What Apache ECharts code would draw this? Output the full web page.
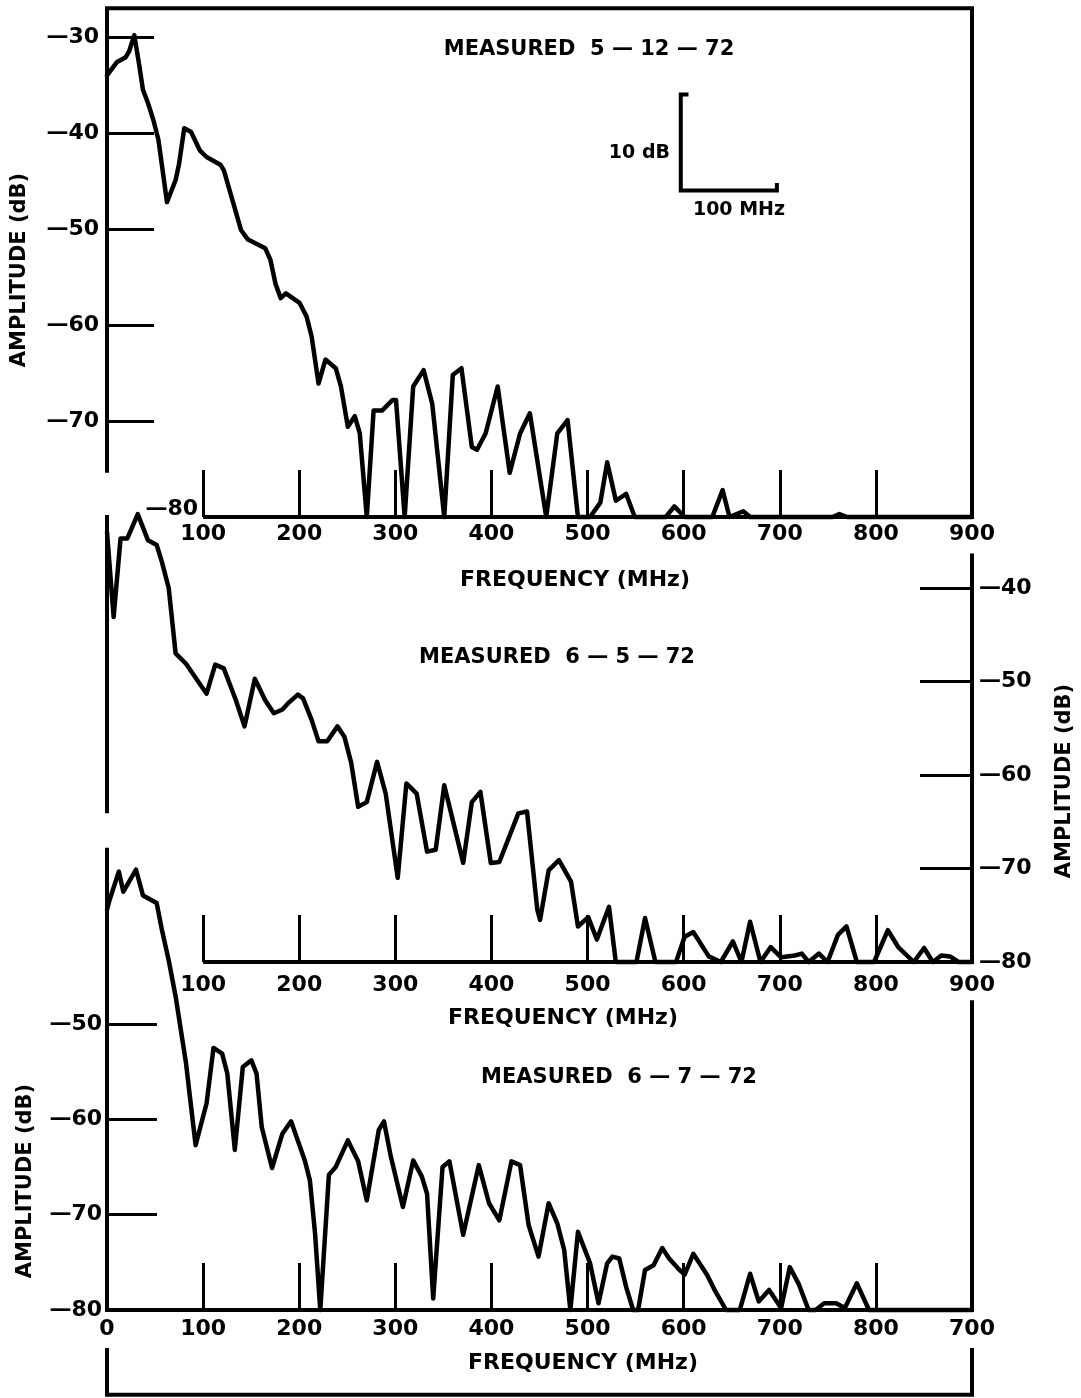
<!DOCTYPE html>
<html><head><meta charset="utf-8">
<script src="https://cdn.jsdelivr.net/npm/echarts@6/dist/echarts.min.js"></script>
<style>html,body{margin:0;padding:0;background:#fff}#c{width:1081px;height:1398px}</style>
</head><body><div id="c"></div>
<script>
// ---------- DATA ----------
// Panel 1: measured 5-12-72
const freq1 = [0,10.5,19.5,23,28.4,33.8,37.4,42.7,48.1,53.5,62.4,71.4,75,80.4,87.5,96.5,103.6,118,121.6,139.4,146.7,164.6,170,175.3,180.7,186.1,200.4,207.6,212.9,220.1,227.3,238,243.4,250.6,257.8,263,270.3,277.4,286.4,297.2,300.7,309.7,318.6,329.4,338.4,350.9,359.8,368.8,379.6,385,393.9,406.5,419,429.8,440,457,468.5,479.2,490,502.6,513.3,520.4,529.5,540.2,549.1,581.4,590.3,601.1,629.8,640.5,647.7,662,669.1,755,762,770,900];
const amp1  = [-34,-32.6,-32.1,-31.5,-29.8,-33.1,-35.5,-36.9,-38.6,-40.7,-47.2,-44.9,-43.2,-39.5,-39.9,-41.8,-42.5,-43.3,-43.9,-50.1,-51.1,-52,-53.2,-55.7,-57.2,-56.7,-57.7,-59.1,-61.2,-66.1,-63.6,-64.5,-66.4,-70.6,-69.5,-71.3,-80,-68.9,-68.9,-67.8,-67.8,-80,-66.4,-64.7,-68.2,-80,-65.2,-64.5,-72.7,-73,-71.3,-66.4,-75.4,-71.3,-69.2,-80,-71.3,-69.9,-80,-80,-78.5,-74.3,-78.3,-77.6,-80,-80,-78.9,-80,-80,-77.2,-80,-79.4,-80,-80,-79.7,-80,-80];
// Panel 2: measured 6-5-72
const freq2 = [0,6.9,14.1,21.2,32,42.7,51.7,57.1,64.2,71.4,82.2,103.6,112.6,121.5,134.1,143.1,153.8,164.6,173.6,182.5,189.7,198.6,204,212.9,220.1,229.1,239.8,247,254.1,261.3,270.3,281,290,302.5,311.5,322.2,333,342,350.9,370.6,379.6,388.5,399.3,408.2,428,437,442.3,447.7,450.6,459.5,470.2,482.8,490,500.7,509.7,522.3,529.4,550.9,559.8,570.6,592,601,610,626.1,638.7,651.2,660.1,669.1,679.9,690.6,701.4,715.7,722.9,730,740.8,749.7,760.5,769.4,780.2,798.1,812.5,823.2,839.4,850.2,859.2,868.1,877.1,886,900];
const amp2  = [-34,-43.1,-34.7,-34.7,-32.1,-34.9,-35.4,-37.2,-40,-47,-48.1,-51.3,-48.2,-48.6,-52,-54.8,-49.7,-52,-53.4,-53,-52.2,-51.4,-51.8,-54.1,-56.4,-56.4,-54.8,-55.9,-58.7,-63.4,-62.9,-58.6,-62,-71,-60.9,-62,-68.2,-68,-61.1,-69.4,-62.9,-61.8,-69.4,-69.3,-64.1,-63.9,-69.1,-74.4,-75.5,-70.2,-69.1,-71.4,-76.2,-75.2,-77.6,-74.1,-80,-80,-75.3,-80,-80,-77.3,-76.8,-79.4,-80,-77.8,-80,-75.7,-80,-78.4,-79.5,-79.3,-79.1,-80,-79.1,-80,-77.1,-76.2,-80,-80,-76.6,-78.4,-80,-78.5,-80,-79.3,-79.4,-80,-80];
// Panel 3: measured 6-7-72
const freq3 = [0,2.6,12.3,17,30.2,37.4,42.7,51.7,57.1,64.2,71.4,82.2,92.2,103.6,110.8,119.8,125.2,133,141.3,150.2,155.6,161,171.7,182.5,191.5,205.8,211.1,216.5,221.9,230.9,238,250.6,261.3,270.3,275.7,282.8,288.2,295.3,307.9,318.6,327.6,333,339.4,349.1,356.3,370.6,386.8,397.5,408.2,420.8,429.8,438.7,449,459.5,468.5,475.7,482.1,490,502.6,511.4,520.4,525.8,533,540.2,547.4,552.6,559.8,568.7,577.7,584.9,593.8,601,610,624.3,633.3,644.1,658.4,669.1,678.1,688.9,701.4,710.4,719.4,730,737.3,746.2,758.7,767.7,780.2,792.8,900];
const amp3  = [-38,-37,-34,-36.1,-33.8,-36.5,-36.8,-37.3,-40.1,-43.3,-47.1,-54.1,-62.7,-58.3,-52.5,-53.1,-55.2,-63.2,-54.5,-53.8,-55.2,-60.8,-65.1,-61.5,-60.2,-64.3,-66.4,-72,-80,-65.8,-65,-62.2,-64.4,-68.5,-65.3,-61.1,-60.2,-63.9,-69.2,-64.3,-66,-67.8,-78.8,-65,-64.4,-72.1,-64.8,-68.8,-70.6,-64.4,-64.8,-71.1,-74.4,-68.8,-70.9,-73.7,-80,-71.8,-75.1,-79.3,-75.1,-74.4,-74.6,-77.6,-80,-80,-75.8,-75.3,-73.5,-74.6,-75.6,-76.3,-74.1,-76.3,-78.1,-80,-80,-76.2,-79.1,-77.9,-79.8,-75.5,-77.2,-80,-80,-79.3,-79.3,-79.8,-77.2,-80,-80];
// Scale bar (10 dB / 100 MHz) in panel 1
const scaleBarFreq = [605,597,597,697,697];
const scaleBarAmp  = [-36,-36,-46,-46,-45.2];
// Ticks and labels
const xTickValues  = [100,200,300,400,500,600,700,800];
const xLabelValues12 = [100,200,300,400,500,600,700,800,900];
const xLabels12      = ['100','200','300','400','500','600','700','800','900'];
const xLabelValues3  = [0,100,200,300,400,500,600,700,800,900];
const xLabels3       = ['0','100','200','300','400','500','600','700','800','700'];
const yTicks1 = [-70,-60,-50,-40,-30], yLabels1 = [-70,-60,-50,-40,-30];
const yTicks2 = [-70,-60,-50,-40],     yLabels2 = [-80,-70,-60,-50,-40];
const yTicks3 = [-70,-60,-50],         yLabels3 = [-80,-70,-60,-50];
const titles = ['MEASURED  5 — 12 — 72','MEASURED  6 — 5 — 72','MEASURED  6 — 7 — 72'];
const xTitle = 'FREQUENCY (MHz)';
const yTitle = 'AMPLITUDE (dB)';

// ---------- CHART ----------
const FONT = 'DejaVu Sans';
const INK = '#000';
const zip = (a,b) => a.map((v,i)=>[v,b[i]]);
const chart = echarts.init(document.getElementById('c'), null, {renderer:'canvas'});
const lab = (vals, names) => v => { const i = vals.indexOf(v); return i<0 ? '' : names[i]; };
const dbFmt = v => '—' + Math.abs(v);
function xAxis(grid, labVals, labNames, margin){
  return {type:'value', gridIndex:grid, min:0, max:900, interval:100,
    axisLine:{show:false, onZero:false}, splitLine:{show:false},
    axisTick:{show:true, inside:true, length:47, customValues:xTickValues, lineStyle:{color:INK,width:3}},
    axisLabel:{show:true, customValues:labVals, formatter:lab(labVals,labNames), margin:margin,
      color:INK, fontFamily:FONT, fontWeight:'bold', fontSize:22}};
}
function yAxis(grid, pos, ticks, labels, tickLen, margin){
  return {type:'value', gridIndex:grid, position:pos, min:-80, max:-30, interval:10,
    axisLine:{show:false, onZero:false}, splitLine:{show:false},
    axisTick:{show:true, inside:true, length:tickLen, customValues:ticks, lineStyle:{color:INK,width:3}},
    axisLabel:{show:true, customValues:labels, formatter:dbFmt, margin:margin,
      color:INK, fontFamily:FONT, fontWeight:'bold', fontSize:22}};
}
const lineStyle = {color:INK, width:4.5, join:'round', cap:'round'};
function ser(x, y, data){
  return {type:'line', xAxisIndex:x, yAxisIndex:y, data:data, showSymbol:false, symbol:'none',
    clip:false, silent:true, lineStyle:lineStyle, animation:false};
}
const option = {
  animation:false,
  backgroundColor:'#fff',
  grid:[
    {left:107, width:865, top:37, height:480},
    {left:107, width:865, top:494.5, height:467.5},
    {left:107, width:865, top:833.5, height:476.5}
  ],
  xAxis:[ xAxis(0,xLabelValues12,xLabels12,6), xAxis(1,xLabelValues12,xLabels12,12), xAxis(2,xLabelValues3,xLabels3,8) ],
  yAxis:[ yAxis(0,'left',yTicks1,yLabels1,47,8), yAxis(1,'right',yTicks2,yLabels2,52,7), yAxis(2,'left',yTicks3,yLabels3,50,5) ],
  series:[
    ser(0,0,zip(freq1,amp1)),
    ser(1,1,zip(freq2,amp2)),
    ser(2,2,zip(freq3,amp3)),
    Object.assign(ser(0,0,zip(scaleBarFreq,scaleBarAmp)), {lineStyle:{color:INK,width:4,join:'miter',cap:'butt'}})
  ]
};
chart.setOption(option);

// ---------- FRAME + TEXT (positions derived from the axes) ----------
const P = (g, x, y) => chart.convertToPixel({gridIndex:g}, [x, y]);
function poly(g, pts, w){
  return {type:'polyline', silent:true, z:50,
    shape:{points: pts.map(p=>P(g,p[0],p[1]))},
    style:{stroke:INK, lineWidth:w||4, fill:null, lineJoin:'miter', lineCap:'butt'}};
}
function txt(x, y, s, size, align, rot){
  return {type:'text', silent:true, z:60, x:x, y:y, rotation:rot||0,
    style:{text:s, fill:INK, font:'bold '+(size||21)+'px "'+FONT+'"', align:align||'center', verticalAlign:'middle'}};
}
const b80a = P(0,100,-80);
const graphics = [
  poly(0, [[0,-75.4],[0,-27],[900,-27],[900,-80],[100,-80]]),
  poly(1, [[0,-32.2],[0,-64.1]]),
  poly(1, [[900,-36.3],[900,-80],[100,-80]]),
  poly(2, [[0,-31.5],[0,-80],[900,-80],[900,-47.5]]),
  poly(2, [[0,-84],[0,-88.9],[900,-88.9],[900,-84]]),
  txt(b80a[0]-5, b80a[1]-8, '—80', 22, 'right'),
  txt(589, 50, titles[0], 21),
  txt(557, 658, titles[1], 21),
  txt(619, 1078, titles[2], 21),
  txt(575, 580, xTitle, 22),
  txt(563, 1018, xTitle, 22),
  txt(583, 1363, xTitle, 22),
  txt(20, 270, yTitle, 21, 'center', Math.PI/2),
  txt(1065, 781, yTitle, 21, 'center', Math.PI/2),
  txt(26, 1181, yTitle, 21, 'center', Math.PI/2),
  txt(670, 153, '10 dB', 19, 'right'),
  txt(739, 210, '100 MHz', 19, 'center')
];
chart.setOption({graphic: graphics});
</script>
</body></html>
